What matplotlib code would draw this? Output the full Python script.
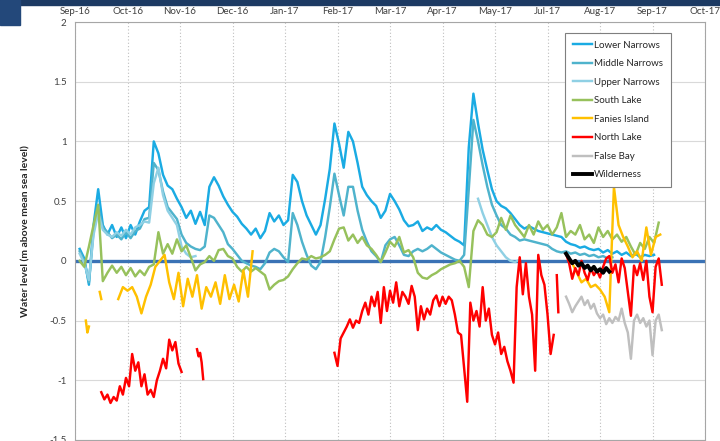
# -*- coding: utf-8 -*-
import numpy as np
import pandas as pd
import matplotlib
matplotlib.use('Agg')
import matplotlib.pyplot as plt
from matplotlib.patches import Rectangle

plt.rcParams['font.family'] = ['Lato', 'DejaVu Sans']

# time axis: day numbers counted from 1 Sep 2016, excel major unit of 34 days
start = pd.Timestamp('2016-09-01')
tick_step = 34
tick_labels = ['Sep-16', 'Oct-16', 'Nov-16', 'Dec-16', 'Jan-17', 'Feb-17', 'Mar-17',
               'Apr-17', 'May-17', 'Jul-17', 'Aug-17', 'Sep-17', 'Oct-17']
y_ticks = [-1.5, -1, -0.5, 0, 0.5, 1, 1.5, 2]
y_tick_labels = ['-1.5', '-1', '-0.5', '0', '0.5', '1', '1.5', '2']

# water levels (m above MSL)
lower_narrows = [0.1, 0.02, -0.2, 0.3, 0.6, 0.3, 0.22, 0.3, 0.2, 0.28,
                 0.19, 0.3, 0.22, 0.33, 0.42, 0.45, 1.0, 0.9, 0.72, 0.63,
                 0.6, 0.52, 0.45, 0.36, 0.42, 0.31, 0.41, 0.3, 0.62, 0.7,
                 0.63, 0.54, 0.47, 0.41, 0.37, 0.31, 0.27, 0.22, 0.27, 0.19,
                 0.25, 0.4, 0.33, 0.38, 0.3, 0.34, 0.72, 0.66, 0.5, 0.38,
                 0.3, 0.22, 0.3, 0.52, 0.77, 1.15, 0.98, 0.78, 1.08, 1.0,
                 0.82, 0.62, 0.55, 0.5, 0.46, 0.36, 0.42, 0.56, 0.5, 0.43,
                 0.34, 0.29, 0.3, 0.33, 0.25, 0.28, 0.26, 0.3, 0.26, 0.24,
                 0.21, 0.18, 0.16, 0.13, 0.95, 1.4, 1.15, 0.93, 0.76, 0.6,
                 0.5, 0.46, 0.44, 0.4, 0.35, 0.3, 0.27, 0.29, 0.27, 0.25,
                 0.24, 0.23, 0.22, 0.21, 0.2, 0.16, 0.14, 0.13, 0.11, 0.12,
                 0.1, 0.09, 0.1, 0.07, 0.09, 0.06, 0.08, 0.05, 0.07, 0.04,
                 0.06, 0.03, 0.05, 0.04, 0.05]

middle_narrows = [0.08, 0.0, -0.18, 0.25, 0.45, 0.28, 0.24, 0.19, 0.22, 0.18,
                  0.24, 0.19, 0.25, 0.27, 0.35, 0.36, 0.82, 0.76, 0.58, 0.45,
                  0.4, 0.35, 0.22, 0.15, 0.12, 0.1, 0.09, 0.12, 0.38, 0.36,
                  0.3, 0.24, 0.14, 0.1, 0.05, 0.0, -0.02, -0.04, -0.05, -0.07,
                  -0.02, 0.07, 0.1, 0.08, 0.03, -0.01, 0.4, 0.3, 0.16, 0.05,
                  -0.04, -0.07, -0.01, 0.2, 0.45, 0.73, 0.55, 0.38, 0.62, 0.62,
                  0.42, 0.26, 0.16, 0.08, 0.04, -0.01, 0.13, 0.18, 0.2, 0.13,
                  0.05, 0.04, 0.08, 0.1, 0.08, 0.1, 0.13, 0.1, 0.07, 0.05,
                  0.03, 0.01, 0.0, 0.05, 0.6, 1.18, 1.0, 0.8, 0.62, 0.47,
                  0.38, 0.3, 0.27, 0.22, 0.2, 0.17, 0.18, 0.17, 0.16, 0.15,
                  0.14, 0.13, 0.1, 0.08, 0.07, 0.08, 0.06, 0.07, 0.05, 0.06,
                  0.04, 0.05, 0.03, 0.04, 0.02, 0.03]

upper_narrows_a = [0.06, -0.02, -0.16, 0.22, 0.4, 0.26, 0.22, 0.2, 0.24, 0.21,
                   0.26, 0.22, 0.28, 0.3, 0.33, 0.32, 0.65, 0.78, 0.55, 0.42,
                   0.36, 0.3, 0.12, 0.06, 0.03, 0.04]
upper_narrows_b = [0.52, 0.4, 0.3, 0.2, 0.13, 0.08, 0.03, 0.0, -0.01, 0.01]

south_lake = [0.0, -0.05, 0.12, 0.3, 0.47, -0.17, -0.1, -0.04, -0.1, -0.05,
              -0.12, -0.06, -0.13, -0.08, -0.12, -0.05, -0.03, 0.24, 0.06, 0.14,
              0.06, 0.18, 0.08, 0.13, 0.03, -0.08, -0.03, -0.01, 0.04, 0.0,
              0.09, 0.1, 0.04, 0.02, -0.05, -0.09, -0.05, -0.09, -0.06, -0.09,
              -0.12, -0.24, -0.2, -0.17, -0.16, -0.13, -0.07, -0.02, 0.02, 0.01,
              0.04, 0.02, 0.03, 0.05, 0.08, 0.18, 0.27, 0.28, 0.17, 0.22,
              0.15, 0.2, 0.13, 0.1, 0.05, -0.01, 0.07, 0.16, 0.12, 0.2,
              0.07, 0.09, 0.03, -0.1, -0.14, -0.15, -0.12, -0.1, -0.07, -0.05,
              -0.03, -0.02, 0.0, -0.05, -0.22, 0.25, 0.34, 0.3, 0.22, 0.2,
              0.24, 0.36, 0.26, 0.38, 0.3, 0.25, 0.2, 0.3, 0.22, 0.33,
              0.26, 0.3, 0.22, 0.28, 0.4, 0.2, 0.25, 0.22, 0.3, 0.18,
              0.22, 0.15, 0.28, 0.2, 0.25, 0.18, 0.22, 0.16, 0.2, 0.12,
              0.05, 0.15, 0.1, 0.2, 0.15, 0.32]

fanies_a = [-0.5, -0.6, -0.55]
fanies_b = [-0.26, -0.32]
fanies_c = [-0.32, -0.22, -0.25, -0.22, -0.3, -0.44, -0.3, -0.2, -0.05, 0.0,
            0.05, -0.18, -0.32, -0.1, -0.38, -0.15, -0.3, -0.12, -0.4, -0.22,
            -0.3, -0.18, -0.36, -0.12, -0.32, -0.2, -0.34, -0.08, -0.3, 0.08]
fanies_d = [-0.02, -0.1, -0.18, -0.15, -0.22, -0.2, -0.24, -0.3, -0.43, 0.62,
            0.3, 0.2, 0.12, 0.03, 0.08, 0.0, 0.28, 0.05, 0.2, 0.22]

north_a = [-1.1, -1.16, -1.12, -1.19, -1.14, -1.17, -1.05, -1.12, -0.98, -1.05,
           -0.78, -0.92, -0.85, -1.05, -0.95, -1.12, -1.08, -1.14, -1.0, -0.92,
           -0.82, -0.9, -0.66, -0.75, -0.68, -0.86, -0.93]
north_b = [-0.74, -0.8, -0.77, -0.85, -0.99]
north_c = [-0.77, -0.88, -0.65, -0.6, -0.55, -0.49, -0.56, -0.5, -0.52, -0.42,
           -0.35, -0.45, -0.3, -0.38, -0.26, -0.52, -0.22, -0.42, -0.25, -0.35,
           -0.18, -0.38, -0.26, -0.3, -0.36, -0.21, -0.3, -0.58, -0.38, -0.49,
           -0.4, -0.45, -0.33, -0.29, -0.38, -0.3, -0.36, -0.3, -0.33, -0.45,
           -0.6, -0.62, -0.9, -1.18, -0.35, -0.5, -0.42, -0.55, -0.22, -0.5,
           -0.4, -0.62, -0.7, -0.6, -0.78, -0.72, -0.84, -0.92, -1.02, -0.22,
           0.03, -0.28, -0.02, -0.3, -0.45, -0.92, 0.05, -0.12, -0.2, -0.45,
           -0.78, -0.62]
north_d = [-0.12, -0.43]
north_e = [0.06, -0.02, -0.15, -0.06, -0.12, 0.0, -0.1, -0.16, -0.06, -0.12,
           -0.08, -0.14, -0.05, 0.02, 0.04, -0.1, -0.03, -0.18, 0.02, -0.06,
           -0.26, -0.46, -0.04, -0.12, -0.02, -0.16, 0.0, -0.3, -0.43, -0.05,
           0.02, -0.2]

false_bay = [-0.3, -0.36, -0.43, -0.38, -0.34, -0.3, -0.37, -0.33, -0.4, -0.36,
             -0.44, -0.48, -0.45, -0.53, -0.48, -0.52, -0.47, -0.5, -0.4, -0.52,
             -0.6, -0.82, -0.5, -0.45, -0.52, -0.48, -0.55, -0.5, -0.79, -0.5,
             -0.45, -0.58]

wilderness = [0.06, 0.02, -0.02, 0.0, -0.04, -0.02, -0.06, -0.04, -0.08, -0.05,
              -0.09, -0.07, -0.1, -0.06, -0.09]

# (name, colour, line width, [(first day, days between readings, values), ...])
series = [
    ('Lower Narrows', '#1AABE3', 1.75, [(3, 3, lower_narrows)]),
    ('Middle Narrows', '#4FB3CC', 1.75, [(3, 3, middle_narrows)]),
    ('Upper Narrows', '#8FD0E4', 1.75, [(3, 3, upper_narrows_a), (261, 3, upper_narrows_b)]),
    ('South Lake', '#97C15C', 1.75, [(3, 3, south_lake)]),
    ('Fanies Island', '#FFC000', 1.75, [(7, 1, fanies_a), (16, 1, fanies_b),
                                       (28, 3, fanies_c), (322, 3, fanies_d)]),
    ('North Lake', '#FF0000', 1.75, [(17, 2, north_a), (79, 1, north_b), (168, 2, north_c),
                                    (312, 1, north_d), (318, 2, north_e)]),
    ('False Bay', '#BFBFBF', 1.75, [(318, 2, false_bay)]),
    ('Wilderness', '#000000', 2.8, [(318, 2, wilderness)]),
]

fig = plt.figure(figsize=(7.2, 4.41), dpi=100)
fig.patches.append(Rectangle((0, 0.988), 1, 0.012, transform=fig.transFigure,
                             color='#1C3A63', zorder=0))
fig.patches.append(Rectangle((0, 0.943), 0.028, 0.057, transform=fig.transFigure,
                             color='#23487A', zorder=0))

ax = fig.add_axes([0.1042, 0.0023, 0.875, 0.9478])

ax.axhline(0, color='#3A72B5', lw=2.4, zorder=1.5)

for name, color, lw, segs in series:
    for i, (d0, step, vals) in enumerate(segs):
        days = d0 + step * np.arange(len(vals))
        x = start + pd.to_timedelta(days, unit='D')
        ax.plot(x, vals, color=color, lw=lw, solid_joinstyle='round',
                label=name if i == 0 else None, zorder=2)

ticks = [start + pd.Timedelta(days=tick_step * k) for k in range(len(tick_labels))]
ax.set_xlim(ticks[0], ticks[-1])
ax.set_xticks(ticks)
ax.set_xticklabels(tick_labels)
ax.xaxis.tick_top()
ax.set_ylim(-1.5, 2)
ax.set_yticks(y_ticks)
ax.set_yticklabels(y_tick_labels)

ax.tick_params(axis='x', length=0, pad=4, labelsize=7, colors='#404040')
ax.tick_params(axis='y', length=0, pad=6, labelsize=7, colors='#404040')
ax.yaxis.grid(True, color='#D9D9D9', lw=0.8)
ax.xaxis.grid(True, color='#BFBFBF', lw=0.8, ls=(0, (1, 2)))
ax.set_axisbelow(True)
for s in ax.spines.values():
    s.set_color('#A6A6A6')
    s.set_linewidth(0.8)

ax.set_ylabel('Water level (m above mean sea level)', fontsize=7.5,
              fontweight='bold', color='#262626', labelpad=14)

leg = ax.legend(loc='upper left', bbox_to_anchor=(565 / 720, 1 - 33 / 441),
                bbox_transform=fig.transFigure, borderaxespad=0, fontsize=7,
                handlelength=2.0, handletextpad=0.2, labelspacing=0.98,
                borderpad=0.8, fancybox=False, framealpha=1)
leg.get_frame().set_edgecolor('#7F7F7F')
leg.get_frame().set_linewidth(0.8)
for t in leg.get_texts():
    t.set_color('#262626')

fig.savefig('out.png', dpi=100)
